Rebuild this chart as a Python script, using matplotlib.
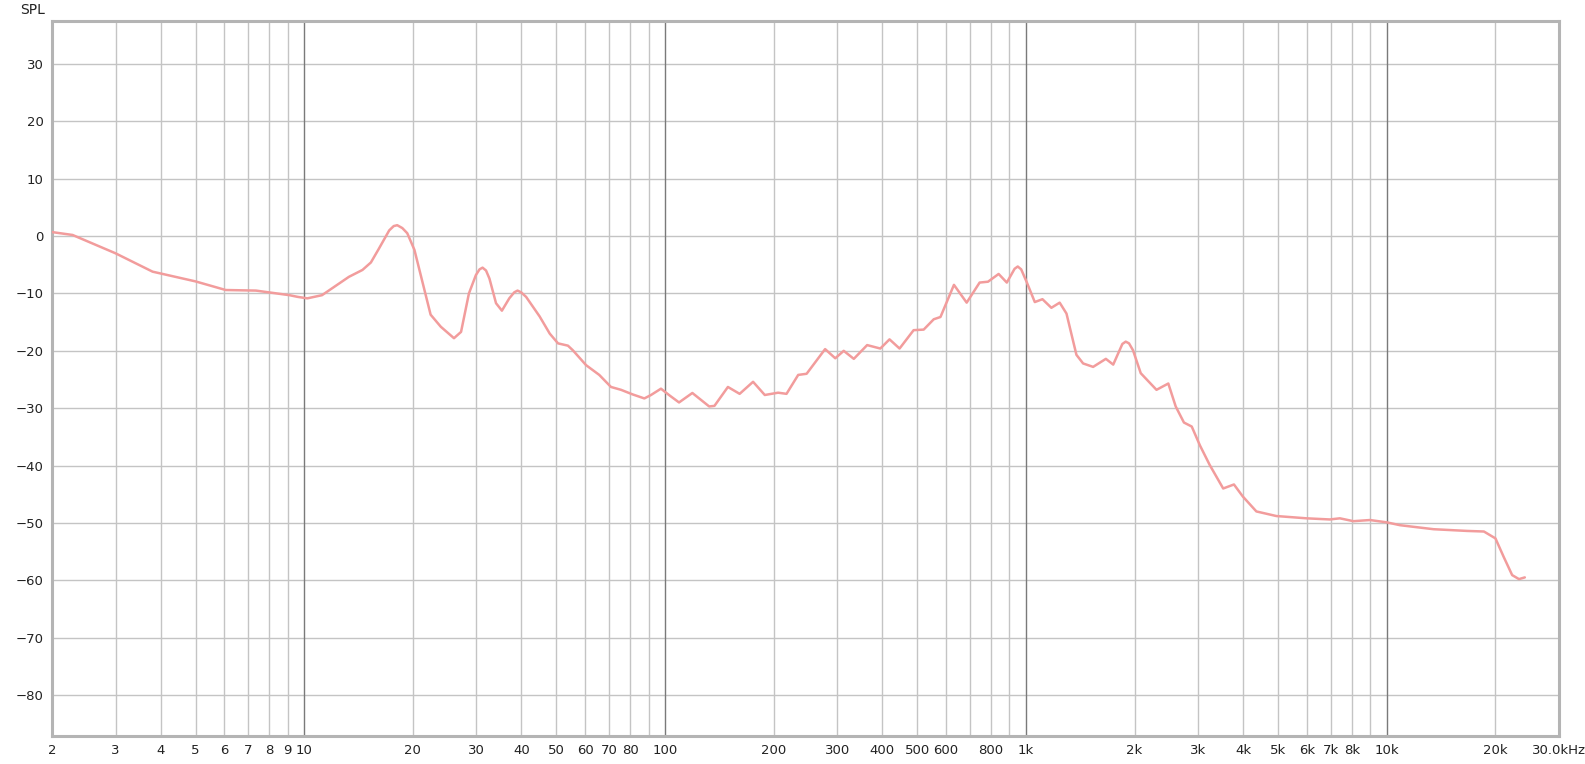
import matplotlib.pyplot as plt

# frequency response (Hz, dB SPL)
freq = [2.0, 2.28, 3.0, 3.8, 5.0, 6.06, 7.35, 9.1, 9.6, 10.2, 11.2, 13.3, 14.5, 15.3,
        16.1, 17.2, 17.7, 18.1, 18.7, 19.3, 20.2, 21.3, 22.4, 23.9, 26.0, 27.2, 28.6, 29.9,
        30.6, 31.2, 31.9, 32.6, 34.0, 35.3, 37.0, 38.2, 39.0, 39.9, 41.2, 44.9, 47.9, 50.5,
        53.8, 55.5, 60.4, 65.7, 70.8, 75.5, 81.3, 87.6, 91.4, 97.4, 103, 109.3, 119, 132.5,
        137, 149.3, 160.9, 175.3, 188.9, 205.7, 217, 233.8, 246.7, 277.6, 296.2,
        312.6, 333.4, 363, 394.8, 418.7, 446.4, 488.3, 520.7, 555.2, 579.6,
        631.6, 685, 744, 785, 840, 885, 930, 949, 970, 1003, 1058, 1111, 1176, 1240, 1295,
        1380, 1440, 1535, 1665, 1745, 1850, 1890, 1930, 1980, 2080, 2300, 2480, 2600, 2740,
        2880, 3035, 3230, 3520, 3770, 3990, 4350, 4940, 5990, 6950, 7410, 8080,
        8980, 9990, 10880, 13480, 16700, 18580, 20000, 21070, 22250, 23240, 24120]
spl = [0.7, 0.2, -3.0, -6.2, -7.9, -9.4, -9.5, -10.3, -10.6, -10.85, -10.3, -7.1, -5.9, -4.6,
       -2.2, 1.0, 1.75, 1.9, 1.4, 0.5, -2.4, -8.2, -13.7, -15.8, -17.8, -16.7, -10.0, -6.8,
       -5.8, -5.5, -6.0, -7.4, -11.7, -13.0, -10.85, -9.8, -9.5, -9.8, -10.6, -14.0, -17.0, -18.7,
       -19.1, -19.9, -22.5, -24.2, -26.3, -26.8, -27.6, -28.3, -27.7, -26.6, -27.8, -29.0, -27.35, -29.7,
       -29.6, -26.3, -27.5, -25.4, -27.7, -27.3, -27.5, -24.2, -24.0, -19.7, -21.3,
       -20.0, -21.4, -19.0, -19.6, -18.0, -19.6, -16.4, -16.3, -14.5, -14.1,
       -8.5, -11.6, -8.1, -7.95, -6.6, -8.1, -5.7, -5.3, -5.8, -7.9, -11.5, -11.0, -12.5, -11.6, -13.5,
       -20.7, -22.2, -22.8, -21.4, -22.4, -18.8, -18.4, -18.7, -19.9, -23.9, -26.8, -25.7, -29.7, -32.5,
       -33.2, -36.5, -39.9, -44.0, -43.3, -45.4, -48.0, -48.8, -49.2, -49.4, -49.2, -49.7,
       -49.5, -49.9, -50.4, -51.1, -51.4, -51.5, -52.7, -55.9, -59.1, -59.8, -59.5]

# x tick labels as shown on the chart
xticks = [2, 3, 4, 5, 6, 7, 8, 9, 10, 20, 30, 40, 50, 60, 70, 80, 100,
          200, 300, 400, 500, 600, 800, 1000, 2000, 3000, 4000, 5000, 6000,
          7000, 8000, 10000, 20000, 30000]
xlabels = ['2', '3', '4', '5', '6', '7', '8', '9', '10', '20', '30', '40', '50',
           '60', '70', '80', '100', '200', '300', '400', '500', '600', '800', '1k',
           '2k', '3k', '4k', '5k', '6k', '7k', '8k', '10k', '20k', '30.0kHz']
yticks = [30, 20, 10, 0, -10, -20, -30, -40, -50, -60, -70, -80]

plt.rcParams['font.family'] = ['DejaVu Sans']

fig = plt.figure(figsize=(15.85, 7.64), dpi=100)
ax = fig.add_axes([52 / 1585, 1 - 736 / 764, (1559 - 52) / 1585, (736 - 21) / 764])

ax.set_xscale('log')
ax.set_xlim(2, 30000)
ax.set_ylim(-87.15, 37.5)

# grid: every 1..9 multiple, decades darker
minor = [m * 10 ** d for d in range(0, 5) for m in range(1, 10)
         if 2 <= m * 10 ** d <= 30000]
for f in minor:
    if f in (10, 100, 1000, 10000):
        ax.axvline(f, color='#7a7a7a', lw=1.0, zorder=1)
    else:
        ax.axvline(f, color='#c4c4c4', lw=1.0, zorder=0)
for y in yticks:
    ax.axhline(y, color='#c4c4c4', lw=1.0, zorder=0)

ax.plot(freq, spl, color='#f29c9c', lw=1.8, zorder=3,
        solid_joinstyle='round', solid_capstyle='round')

ax.set_xticks(xticks)
ax.set_xticklabels(xlabels)
ax.xaxis.set_minor_locator(plt.NullLocator())
ax.set_yticks(yticks)
ax.tick_params(axis='both', length=0, labelsize=9.5, colors='#222222')
ax.tick_params(axis='x', pad=6)
ax.tick_params(axis='y', pad=6)

for s in ax.spines.values():
    s.set_color('#b4b4b4')
    s.set_linewidth(2.2)

fig.text(20 / 1585, 1 - 10 / 764, 'SPL', fontsize=10, color='#222222',
         ha='left', va='center')

fig.savefig('out.png', dpi=100, facecolor='white')
